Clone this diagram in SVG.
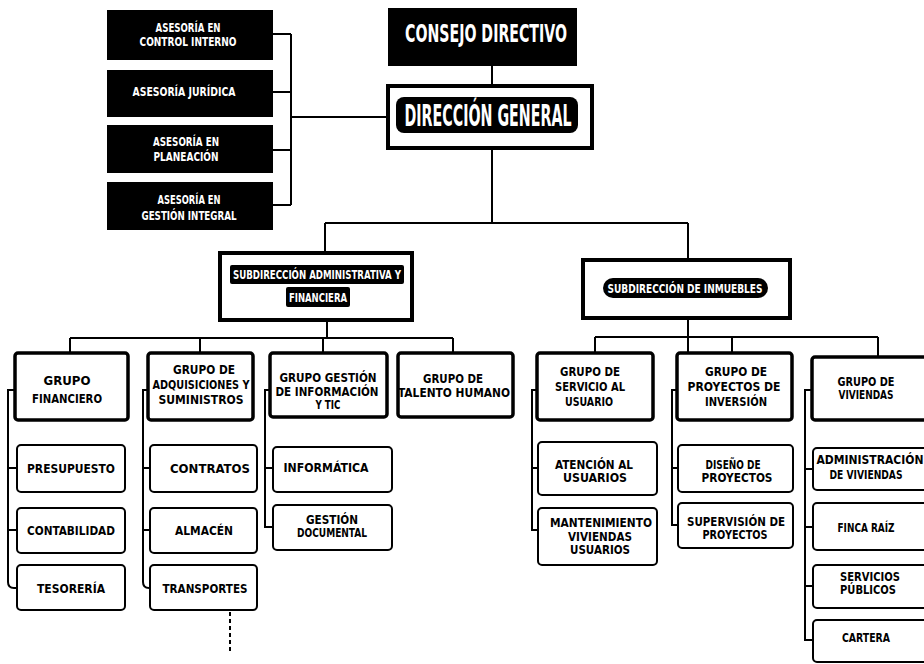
<svg xmlns="http://www.w3.org/2000/svg" width="924" height="664" viewBox="0 0 924 664">
<style>
.t{font-family:"Liberation Sans Narrow","DejaVu Sans Condensed","Liberation Sans",sans-serif;font-weight:bold;text-anchor:middle;dominant-baseline:central;font-size:12px;fill:#000}
.b{font-size:13px}
.w{fill:#fff}
.blk{fill:#000}
.g{fill:#fff;stroke:#000;stroke-width:3.5}
.s{fill:#fff;stroke:#000;stroke-width:2}
.c{fill:none;stroke:#000;stroke-width:2}
</style>
<rect width="924" height="664" fill="#fff"/>
<g id="connectors" class="c">
<path d="M273,34H291M273,92H291M273,150H291M273,205H291M291,34V205M291,117H388"/>
<path d="M492,66V86M492,148V223M325,223H688M325,223V253M688,223V260"/>
<path d="M327,320V338M70,338H453M70,338V353M200,338V353M323,338V353M453,338V353"/>
<path d="M688,318V353M595,337H878M595,337V353M732,337V353M878,337V357"/>
<path d="M15,390H8V582Q8,588 14,588H17M8,468H17M8,530H17"/>
<path d="M148,390H143V582Q143,588 149,588H150M143,468H150M143,530H150"/>
<path d="M270,390H265V527H273M265,468H273"/>
<path d="M537,390H532V530H538M532,468H538"/>
<path d="M677,390H672V525H678M672,468H678"/>
<path d="M812,390H805V640H813M805,469H813M805,527H813M805,586H813"/>
<path d="M230,612V652" stroke-dasharray="4 3"/>
</g>
<g id="asesoria-control"><rect class="blk" x="107" y="10" width="166" height="50"/><text class="t w" x="188" y="28" textLength="65" lengthAdjust="spacingAndGlyphs">ASESORÍA EN</text><text class="t w" x="188" y="42" textLength="97" lengthAdjust="spacingAndGlyphs">CONTROL INTERNO</text></g>
<g id="asesoria-juridica"><rect class="blk" x="107" y="70" width="166" height="47"/><text class="t w" x="184" y="92" textLength="103" lengthAdjust="spacingAndGlyphs">ASESORÍA JURÍDICA</text></g>
<g id="asesoria-planeacion"><rect class="blk" x="107" y="125" width="166" height="48"/><text class="t w" x="186" y="142" textLength="66" lengthAdjust="spacingAndGlyphs">ASESORÍA EN</text><text class="t w" x="186" y="157" textLength="65" lengthAdjust="spacingAndGlyphs">PLANEACIÓN</text></g>
<g id="asesoria-gestion"><rect class="blk" x="107" y="182" width="166" height="48"/><text class="t w" x="189" y="200" textLength="63" lengthAdjust="spacingAndGlyphs">ASESORÍA EN</text><text class="t w" x="189" y="216" textLength="95" lengthAdjust="spacingAndGlyphs">GESTIÓN INTEGRAL</text></g>
<g id="consejo"><rect class="blk" x="388" y="8" width="189" height="58"/><text class="t w" x="486" y="34" style="font-size:24px" textLength="162" lengthAdjust="spacingAndGlyphs">CONSEJO DIRECTIVO</text></g>
<g id="direccion"><rect x="388" y="86" width="204" height="62" fill="#fff" stroke="#000" stroke-width="4"/><rect class="blk" x="396" y="97" width="182" height="36" rx="8"/><text class="t w" x="488" y="115" style="font-size:30px" textLength="167" lengthAdjust="spacingAndGlyphs">DIRECCIÓN GENERAL</text></g>
<g id="subdir-admin"><rect x="220" y="253" width="192" height="67" fill="#fff" stroke="#000" stroke-width="4"/><rect class="blk" x="230" y="265" width="174" height="19" rx="2"/><rect class="blk" x="286" y="287" width="64" height="20" rx="2"/><text class="t w" x="317" y="274.5" style="font-size:13px" textLength="168" lengthAdjust="spacingAndGlyphs">SUBDIRECCIÓN ADMINISTRATIVA Y</text><text class="t w" x="318" y="297" style="font-size:13px" textLength="58" lengthAdjust="spacingAndGlyphs">FINANCIERA</text></g>
<g id="subdir-inmuebles"><rect x="583" y="260" width="207" height="58" fill="#fff" stroke="#000" stroke-width="4"/><rect class="blk" x="603" y="278" width="165" height="20" rx="10"/><text class="t w" x="685" y="288" style="font-size:13px" textLength="155" lengthAdjust="spacingAndGlyphs">SUBDIRECCIÓN DE INMUEBLES</text></g>
<g id="grupo-financiero"><rect class="g" x="15" y="353" width="113" height="67" rx="3"/><text class="t b" x="67" y="380" textLength="47" lengthAdjust="spacingAndGlyphs">GRUPO</text><text class="t b" x="67" y="398" textLength="70" lengthAdjust="spacingAndGlyphs">FINANCIERO</text></g>
<g id="grupo-adquisiciones"><rect class="g" x="148" y="353" width="105" height="67" rx="3"/><text class="t" x="204" y="370" textLength="62" lengthAdjust="spacingAndGlyphs">GRUPO DE</text><text class="t" x="201" y="385" textLength="97" lengthAdjust="spacingAndGlyphs">ADQUISICIONES Y</text><text class="t" x="201" y="400" textLength="85" lengthAdjust="spacingAndGlyphs">SUMINISTROS</text></g>
<g id="grupo-informacion"><rect class="g" x="270" y="353" width="117" height="64" rx="3"/><text class="t" x="328" y="378" textLength="97" lengthAdjust="spacingAndGlyphs">GRUPO GESTIÓN</text><text class="t" x="327" y="392" textLength="103" lengthAdjust="spacingAndGlyphs">DE INFORMACIÓN</text><text class="t" x="328" y="405" textLength="25" lengthAdjust="spacingAndGlyphs">Y TIC</text></g>
<g id="grupo-talento"><rect class="g" x="398" y="353" width="115" height="64" rx="3"/><text class="t" x="453" y="379" textLength="60" lengthAdjust="spacingAndGlyphs">GRUPO DE</text><text class="t" x="454" y="393" textLength="112" lengthAdjust="spacingAndGlyphs">TALENTO HUMANO</text></g>
<g id="grupo-servicio"><rect class="g" x="537" y="353" width="116" height="67" rx="3"/><text class="t" x="590" y="372" textLength="60" lengthAdjust="spacingAndGlyphs">GRUPO DE</text><text class="t" x="590" y="387" textLength="70" lengthAdjust="spacingAndGlyphs">SERVICIO AL</text><text class="t" x="589" y="402" textLength="48" lengthAdjust="spacingAndGlyphs">USUARIO</text></g>
<g id="grupo-proyectos"><rect class="g" x="677" y="353" width="115" height="67" rx="3"/><text class="t" x="736" y="372" textLength="62" lengthAdjust="spacingAndGlyphs">GRUPO DE</text><text class="t" x="734" y="387" textLength="93" lengthAdjust="spacingAndGlyphs">PROYECTOS DE</text><text class="t" x="736" y="402" textLength="62" lengthAdjust="spacingAndGlyphs">INVERSIÓN</text></g>
<g id="grupo-viviendas"><rect class="g" x="812" y="357" width="116" height="63" rx="3"/><text class="t" x="866" y="382" textLength="57" lengthAdjust="spacingAndGlyphs">GRUPO DE</text><text class="t" x="866" y="395" textLength="55" lengthAdjust="spacingAndGlyphs">VIVIENDAS</text></g>
<g id="presupuesto"><rect class="s" x="17" y="445" width="108" height="47" rx="4"/><text class="t b" x="71" y="468" textLength="88" lengthAdjust="spacingAndGlyphs">PRESUPUESTO</text></g>
<g id="contabilidad"><rect class="s" x="17" y="508" width="108" height="45" rx="4"/><text class="t b" x="71" y="530" textLength="88" lengthAdjust="spacingAndGlyphs">CONTABILIDAD</text></g>
<g id="tesoreria"><rect class="s" x="17" y="565" width="108" height="45" rx="4"/><text class="t b" x="71" y="588" textLength="68" lengthAdjust="spacingAndGlyphs">TESORERÍA</text></g>
<g id="contratos"><rect class="s" x="150" y="445" width="107" height="47" rx="4"/><text class="t b" x="210" y="468" textLength="80" lengthAdjust="spacingAndGlyphs">CONTRATOS</text></g>
<g id="almacen"><rect class="s" x="150" y="508" width="107" height="45" rx="4"/><text class="t b" x="204" y="530" textLength="58" lengthAdjust="spacingAndGlyphs">ALMACÉN</text></g>
<g id="transportes"><rect class="s" x="150" y="565" width="107" height="45" rx="4"/><text class="t b" x="205" y="588" textLength="85" lengthAdjust="spacingAndGlyphs">TRANSPORTES</text></g>
<g id="informatica"><rect class="s" x="273" y="447" width="119" height="45" rx="4"/><text class="t b" x="326" y="467" textLength="85" lengthAdjust="spacingAndGlyphs">INFORMÁTICA</text></g>
<g id="gestion-documental"><rect class="s" x="273" y="505" width="119" height="45" rx="4"/><text class="t" x="332" y="520" textLength="52" lengthAdjust="spacingAndGlyphs">GESTIÓN</text><text class="t" x="332" y="533" textLength="70" lengthAdjust="spacingAndGlyphs">DOCUMENTAL</text></g>
<g id="atencion"><rect class="s" x="538" y="442" width="119" height="53" rx="4"/><text class="t" x="594" y="465" textLength="78" lengthAdjust="spacingAndGlyphs">ATENCIÓN AL</text><text class="t" x="595" y="478" textLength="64" lengthAdjust="spacingAndGlyphs">USUARIOS</text></g>
<g id="mantenimiento"><rect class="s" x="538" y="508" width="119" height="57" rx="4"/><text class="t" x="601" y="523" textLength="102" lengthAdjust="spacingAndGlyphs">MANTENIMIENTO</text><text class="t" x="600" y="537" textLength="64" lengthAdjust="spacingAndGlyphs">VIVIENDAS</text><text class="t" x="600" y="550" textLength="60" lengthAdjust="spacingAndGlyphs">USUARIOS</text></g>
<g id="diseno"><rect class="s" x="678" y="445" width="115" height="47" rx="4"/><text class="t" x="733" y="465" textLength="55" lengthAdjust="spacingAndGlyphs">DISEÑO DE</text><text class="t" x="737" y="478" textLength="71" lengthAdjust="spacingAndGlyphs">PROYECTOS</text></g>
<g id="supervision"><rect class="s" x="678" y="503" width="115" height="45" rx="4"/><text class="t" x="736" y="522" textLength="98" lengthAdjust="spacingAndGlyphs">SUPERVISIÓN DE</text><text class="t" x="735" y="535" textLength="65" lengthAdjust="spacingAndGlyphs">PROYECTOS</text></g>
<g id="administracion"><rect class="s" x="813" y="448" width="116" height="42" rx="4"/><text class="t" x="870" y="460" textLength="107" lengthAdjust="spacingAndGlyphs">ADMINISTRACIÓN</text><text class="t" x="866" y="475" textLength="73" lengthAdjust="spacingAndGlyphs">DE VIVIENDAS</text></g>
<g id="finca-raiz"><rect class="s" x="813" y="503" width="116" height="47" rx="4"/><text class="t" x="866" y="528" textLength="57" lengthAdjust="spacingAndGlyphs">FINCA RAÍZ</text></g>
<g id="servicios-publicos"><rect class="s" x="813" y="565" width="116" height="43" rx="4"/><text class="t" x="870" y="577" textLength="60" lengthAdjust="spacingAndGlyphs">SERVICIOS</text><text class="t" x="868" y="590" textLength="56" lengthAdjust="spacingAndGlyphs">PÚBLICOS</text></g>
<g id="cartera"><rect class="s" x="813" y="620" width="116" height="42" rx="4"/><text class="t" x="866" y="638" textLength="48" lengthAdjust="spacingAndGlyphs">CARTERA</text></g>
</svg>
